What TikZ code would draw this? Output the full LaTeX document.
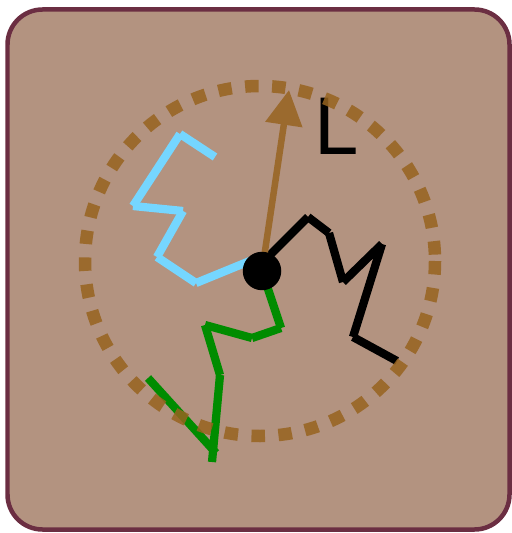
\documentclass[tikz,border=0pt]{standalone}
\usepackage{fontspec}
\setsansfont{DejaVu Sans}
\usetikzlibrary{arrows.meta}

\definecolor{cellfill}{RGB}{179,147,128}
\definecolor{cellrim}{RGB}{107,46,66}
\definecolor{rodbrown}{RGB}{155,106,46}
\definecolor{ringbrown}{RGB}{151,99,31}
\definecolor{chainblue}{RGB}{117,214,255}
\definecolor{chaingreen}{RGB}{0,140,0}

\tikzset{
  chain/.style={line width=0.165cm, line cap=butt},
  rim/.style={draw=cellrim, fill=cellfill, line width=0.09cm, rounded corners=0.7cm},
  rod/.style={rodbrown, line width=0.13cm,
    -{Triangle[length=0.7cm, width=0.72cm]}},
  ring/.style={ringbrown, draw opacity=0.85, line width=0.25cm,
    dash pattern=on 0.27cm off 0.27cm},
  core/.style={circle, fill=black, inner sep=0pt, minimum size=0.77cm}
}

\begin{document}
\begin{tikzpicture}[x=0.02cm, y=-0.02cm]
\useasboundingbox (0,0) rectangle (511,533);

		% ================= cell =================
		\draw[rim] (7.5,9.5) rectangle (509.5,529.5);

		% ================= chain points =================
		\coordinate (o) at (262,271);
		% blue
		\coordinate (u0) at (262,256);
		\coordinate (u1) at (196,283);
		\coordinate (u2) at (157,257);
		\coordinate (u3) at (183,211);
		\coordinate (u4) at (133,206);
		\coordinate (u5) at (180,134);
		\coordinate (u6) at (215,157);
		% black
		\coordinate (k0) at (263,262);
		\coordinate (k1) at (308,217);
		\coordinate (k2) at (329,233);
		\coordinate (k3) at (343,282);
		\coordinate (k4) at (382,244);
		\coordinate (k5) at (353,337);
		\coordinate (k6) at (397,361);
		% green
		\coordinate (g1) at (281,328);
		\coordinate (g2) at (252,338);
		\coordinate (g3) at (205,325);
		\coordinate (g4) at (220,375);
		\coordinate (g5) at (212,462);
		\coordinate (g6) at (216,453);
		\coordinate (g7) at (148,378);

		% ================= chains =================
		\foreach \a/\b in {u0/u1, u1/u2, u2/u3, u3/u4, u4/u5, u5/u6}
			\draw[chain, chainblue] (\a) -- (\b);
		\foreach \a/\b in {k0/k1, k1/k2, k2/k3, k3/k4, k4/k5, k5/k6}
			\draw[chain, black] (\a) -- (\b);
		\foreach \a/\b in {o/g1, g1/g2, g2/g3, g3/g4, g4/g5, g6/g7}
			\draw[chain, chaingreen] (\a) -- (\b);

		% ================= rod and label =================
		\coordinate (tip) at (289,90);
		\draw[rod] (o) -- (tip);
		\node[font=\sffamily\fontsize{44}{44}\selectfont, anchor=base west, inner sep=0pt]
			(len) at (313,155) {L};

		% ================= ring =================
		\draw[ring] (260,261) circle[radius=175];

		\node[core] (hub) at (o) {};

\end{tikzpicture}
\end{document}
